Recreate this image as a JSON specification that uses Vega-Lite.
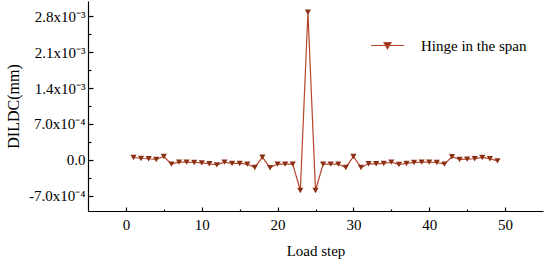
{
  "$schema": "https://vega.github.io/schema/vega-lite/v6.json",
  "width": 455,
  "height": 210,
  "autosize": {"type": "none"},
  "padding": {"left": 88, "top": 1, "right": 7, "bottom": 55},
  "background": "white",
  "config": {
    "view": {"stroke": null},
    "font": "Liberation Serif",
    "axis": {
      "grid": false,
      "domainColor": "black",
      "domainWidth": 1.2,
      "tickColor": "black",
      "tickWidth": 1.2,
      "labelFont": "Liberation Serif",
      "labelFontSize": 15,
      "labelColor": "black",
      "titleFont": "Liberation Serif",
      "titleFontWeight": "normal",
      "titleColor": "black"
    }
  },
  "data": {
    "values": [
      {"step": 1, "v": 0.000045, "s": "Hinge in the span"},
      {"step": 2, "v": 0.000025, "s": "Hinge in the span"},
      {"step": 3, "v": 0.00002, "s": "Hinge in the span"},
      {"step": 4, "v": 0.000006, "s": "Hinge in the span"},
      {"step": 5, "v": 0.000064, "s": "Hinge in the span"},
      {"step": 6, "v": -0.000084, "s": "Hinge in the span"},
      {"step": 7, "v": -0.000045, "s": "Hinge in the span"},
      {"step": 8, "v": -0.000045, "s": "Hinge in the span"},
      {"step": 9, "v": -0.000053, "s": "Hinge in the span"},
      {"step": 10, "v": -0.000059, "s": "Hinge in the span"},
      {"step": 11, "v": -0.000078, "s": "Hinge in the span"},
      {"step": 12, "v": -0.000098, "s": "Hinge in the span"},
      {"step": 13, "v": -0.000045, "s": "Hinge in the span"},
      {"step": 14, "v": -0.000072, "s": "Hinge in the span"},
      {"step": 15, "v": -0.000072, "s": "Hinge in the span"},
      {"step": 16, "v": -0.000084, "s": "Hinge in the span"},
      {"step": 17, "v": -0.00015, "s": "Hinge in the span"},
      {"step": 18, "v": 0.000053, "s": "Hinge in the span"},
      {"step": 19, "v": -0.000156, "s": "Hinge in the span"},
      {"step": 20, "v": -0.000084, "s": "Hinge in the span"},
      {"step": 21, "v": -0.000084, "s": "Hinge in the span"},
      {"step": 22, "v": -0.000084, "s": "Hinge in the span"},
      {"step": 23, "v": -0.0006, "s": "Hinge in the span"},
      {"step": 24, "v": 0.00288, "s": "Hinge in the span"},
      {"step": 25, "v": -0.0006, "s": "Hinge in the span"},
      {"step": 26, "v": -0.000084, "s": "Hinge in the span"},
      {"step": 27, "v": -0.000084, "s": "Hinge in the span"},
      {"step": 28, "v": -0.000084, "s": "Hinge in the span"},
      {"step": 29, "v": -0.00015, "s": "Hinge in the span"},
      {"step": 30, "v": 0.000064, "s": "Hinge in the span"},
      {"step": 31, "v": -0.00015, "s": "Hinge in the span"},
      {"step": 32, "v": -0.000078, "s": "Hinge in the span"},
      {"step": 33, "v": -0.000078, "s": "Hinge in the span"},
      {"step": 34, "v": -0.000072, "s": "Hinge in the span"},
      {"step": 35, "v": -0.000045, "s": "Hinge in the span"},
      {"step": 36, "v": -0.000092, "s": "Hinge in the span"},
      {"step": 37, "v": -0.000072, "s": "Hinge in the span"},
      {"step": 38, "v": -0.000053, "s": "Hinge in the span"},
      {"step": 39, "v": -0.000045, "s": "Hinge in the span"},
      {"step": 40, "v": -0.000045, "s": "Hinge in the span"},
      {"step": 41, "v": -0.000053, "s": "Hinge in the span"},
      {"step": 42, "v": -0.000084, "s": "Hinge in the span"},
      {"step": 43, "v": 0.000059, "s": "Hinge in the span"},
      {"step": 44, "v": 0.000006, "s": "Hinge in the span"},
      {"step": 45, "v": 0.000013, "s": "Hinge in the span"},
      {"step": 46, "v": 0.00002, "s": "Hinge in the span"},
      {"step": 47, "v": 0.000045, "s": "Hinge in the span"},
      {"step": 48, "v": 0.00002, "s": "Hinge in the span"},
      {"step": 49, "v": -0.00002, "s": "Hinge in the span"}
    ]
  },
  "encoding": {
    "x": {
      "field": "step",
      "type": "quantitative",
      "scale": {"domain": [-5, 55], "nice": false, "zero": false},
      "axis": {
        "title": "Load step",
        "titleFontSize": 15,
        "titlePadding": 11,
        "values": [0, 5, 10, 15, 20, 25, 30, 35, 40, 45, 50],
        "labelExpr": "datum.value % 10 == 0 ? datum.label : ''",
        "tickSize": {"condition": {"test": "datum.value % 10 == 0", "value": -4}, "value": -2},
        "labelPadding": 10
      }
    },
    "y": {
      "field": "v",
      "type": "quantitative",
      "scale": {"domain": [-0.001, 0.0031], "nice": false, "zero": false},
      "axis": {
        "title": "DILDC(mm)",
        "titleFontSize": 16,
        "titlePadding": 7,
        "values": [-0.0007, -0.00035, 0, 0.00035, 0.0007, 0.00105, 0.0014, 0.00175, 0.0021, 0.00245, 0.0028],
        "labelExpr": "round(datum.value/0.00035) % 2 != 0 ? '' : round(datum.value/0.0007) == 0 ? '0.0' : round(datum.value/0.0007) == -1 ? '-7.0x10⁻⁴' : round(datum.value/0.0007) == 1 ? '7.0x10⁻⁴' : round(datum.value/0.0007) == 2 ? '1.4x10⁻³' : round(datum.value/0.0007) == 3 ? '2.1x10⁻³' : '2.8x10⁻³'",
        "tickSize": {"condition": {"test": "round(datum.value/0.00035) % 2 == 0", "value": -5}, "value": -3},
        "labelPadding": 8
      }
    }
  },
  "layer": [
    {
      "mark": {"type": "line", "strokeWidth": 1.2},
      "encoding": {
        "color": {
          "field": "s",
          "type": "nominal",
          "scale": {"domain": ["Hinge in the span"], "range": ["#B5452A"]},
          "legend": {
            "title": null,
            "orient": "none",
            "legendX": 282,
            "legendY": 27,
            "padding": 0,
            "symbolType": "M-1,0H1M-0.21,-0.17H0.21L0,0.2Z",
            "symbolSize": 1089,
            "symbolStrokeWidth": 1.2,
            "labelOffset": 16,
            "labelFont": "Liberation Serif",
            "labelFontSize": 15,
            "labelColor": "black",
            "encode": {
              "symbols": {"update": {"fill": {"value": "#8A2F14"}, "stroke": {"value": "#B5452A"}, "strokeWidth": {"value": 1.2}}}
            }
          }
        }
      }
    },
    {
      "mark": {"type": "point", "shape": "triangle-down", "filled": true, "size": 38, "color": "#8A2F14", "opacity": 1}
    }
  ]
}
